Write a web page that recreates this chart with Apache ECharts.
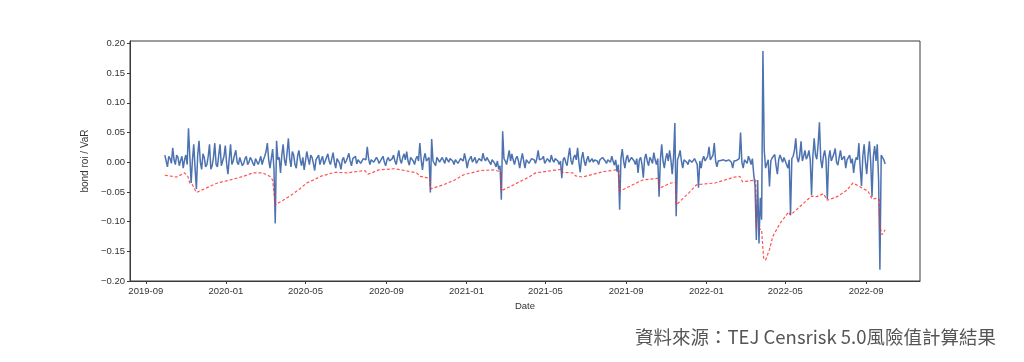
<!DOCTYPE html>
<html>
<head>
<meta charset="utf-8">
<script src="https://cdn.jsdelivr.net/npm/echarts@6/dist/echarts.min.js"></script>
<style>
html,body{margin:0;padding:0;background:#fff;}
#c{width:1024px;height:362px;}
</style>
</head>
<body>
<div id="c"></div>
<script>
// ---- data ----
const roiStartDate = '2019-09-30';
const roiStepDays = 2;
const bondRoi = [
 0.012,0.002,-0.008,0.010,0.006,-0.002,0.024,0.004,-0.004,0.012,0.008,-0.006,0.003,0.010,-0.010,0.004,0.012,-0.004,0.057,0.010,
 -0.035,0.004,0.030,-0.010,-0.045,0.012,0.036,0.000,-0.012,0.014,0.008,-0.008,-0.004,0.010,0.030,-0.012,-0.006,0.008,0.032,-0.004,
 -0.008,0.012,0.030,-0.006,-0.004,0.010,0.028,-0.002,-0.020,0.006,0.030,-0.004,0.002,0.012,0.020,0.000,-0.004,0.008,0.006,-0.006,
 -0.002,0.006,0.010,-0.004,0.000,0.008,0.004,-0.002,-0.006,0.006,0.008,-0.004,0.002,0.010,-0.004,0.004,0.010,0.018,0.032,0.004,
 -0.010,0.006,0.022,-0.010,-0.103,0.036,0.004,0.008,-0.018,0.012,0.030,0.004,-0.006,0.016,0.040,0.006,-0.008,0.018,0.012,-0.004,
 -0.010,0.010,0.020,0.004,-0.006,0.008,-0.013,0.002,0.018,0.006,-0.004,0.012,0.008,-0.002,-0.014,0.004,0.006,0.012,-0.004,0.004,
 0.010,-0.004,0.002,0.008,0.014,0.002,-0.004,0.006,0.016,0.000,-0.010,0.006,0.004,-0.002,-0.012,0.004,0.008,-0.002,0.002,0.008,
 0.015,0.002,-0.006,0.006,0.004,0.010,-0.003,0.004,0.006,-0.002,0.000,0.006,0.008,0.004,0.026,0.006,-0.004,0.004,0.006,0.000,
 0.002,0.008,0.004,-0.002,0.002,0.006,0.010,0.000,-0.006,0.004,0.008,0.002,0.002,0.006,0.012,0.002,-0.004,0.008,0.020,0.004,
 -0.002,0.008,0.014,0.004,0.018,0.002,-0.005,0.008,0.006,0.002,-0.004,0.006,0.010,0.002,0.032,0.004,-0.013,0.006,0.015,0.002,
 0.004,0.008,-0.051,0.039,0.002,0.004,-0.006,0.008,0.010,0.000,-0.002,0.008,0.006,-0.002,0.008,0.004,0.000,0.006,0.005,0.002,
 -0.004,0.004,0.006,-0.002,0.002,0.006,0.008,0.002,0.015,0.004,-0.010,0.002,0.006,0.010,0.000,0.004,0.008,-0.002,0.002,0.006,
 0.006,0.002,0.015,0.006,0.002,0.008,0.004,0.000,-0.004,0.004,0.003,-0.002,-0.008,0.002,-0.012,-0.006,-0.063,0.052,0.006,0.002,
 -0.004,0.008,0.020,0.002,0.014,0.004,-0.004,0.006,0.010,0.002,-0.010,0.004,0.015,0.002,-0.010,0.004,0.006,-0.002,0.002,0.006,
 0.008,0.004,-0.002,0.006,0.020,0.004,0.002,0.006,0.010,-0.002,0.002,0.006,0.004,0.000,0.012,0.004,0.000,0.006,0.004,0.002,
 -0.004,0.002,-0.027,0.004,0.008,0.000,-0.006,0.010,0.024,0.002,-0.004,0.008,0.012,0.004,0.024,0.000,-0.017,0.006,0.017,0.002,
 -0.006,0.004,0.010,0.000,0.002,0.006,0.000,0.004,0.006,0.002,-0.004,0.004,0.004,0.008,0.010,0.002,-0.002,0.004,0.006,0.000,
 0.010,0.002,-0.005,0.004,-0.016,-0.004,-0.080,0.006,0.022,0.002,-0.010,0.006,0.012,0.000,0.002,0.008,0.010,0.002,-0.004,0.006,
 -0.018,0.004,0.008,-0.004,-0.026,0.006,0.014,0.002,-0.006,0.008,0.004,-0.002,0.016,0.004,-0.004,0.006,-0.058,0.004,0.030,0.002,
 -0.010,0.006,0.015,0.002,0.020,0.004,-0.020,0.008,0.066,-0.091,0.004,0.010,0.020,0.002,-0.010,0.004,0.005,0.000,-0.004,0.004,
 0.006,0.000,0.002,0.006,0.004,-0.004,-0.043,0.002,-0.010,0.004,0.010,0.002,0.002,0.010,0.026,0.004,0.004,0.012,0.032,0.002,
 -0.008,0.002,0.005,0.003,0.002,0.004,0.003,0.002,0.003,0.004,0.002,0.000,-0.010,0.002,0.005,0.003,0.002,0.006,0.050,0.000,
 -0.010,0.004,0.006,-0.002,0.010,0.004,-0.004,0.006,-0.020,-0.040,-0.131,-0.030,-0.137,-0.060,-0.097,0.187,0.020,-0.010,-0.013,0.004,
 -0.041,0.002,0.007,0.010,0.013,-0.006,-0.020,0.004,0.012,0.006,0.000,0.008,0.008,-0.004,-0.010,0.004,-0.089,0.006,0.010,0.020,
 0.040,0.008,0.000,0.012,0.035,0.002,0.010,0.020,0.005,0.010,0.020,0.004,-0.055,0.010,0.040,0.012,0.005,0.030,0.067,0.004,
 -0.010,0.010,0.020,0.004,-0.062,0.006,0.020,0.002,0.005,0.014,0.023,0.000,-0.005,0.008,0.020,0.004,0.002,0.010,-0.010,0.004,
 0.004,0.012,-0.002,0.006,-0.018,0.000,0.008,0.004,0.032,-0.010,-0.040,0.010,0.030,0.000,-0.020,0.012,0.035,0.000,-0.058,0.010,
 0.027,0.002,0.030,-0.030,-0.181,0.012,0.012,0.004,-0.003
];
const varDates = [
 '2019-09-30','2019-10-18','2019-10-30','2019-11-04','2019-11-07','2019-11-11','2019-11-14','2019-11-17','2019-11-25','2019-12-07',
 '2019-12-19','2020-01-07','2020-01-27','2020-02-11','2020-02-26','2020-03-08','2020-03-12','2020-03-15','2020-03-16','2020-03-31',
 '2020-04-10','2020-04-22','2020-05-03','2020-05-15','2020-05-26','2020-06-15','2020-07-03','2020-07-30','2020-08-04','2020-08-10',
 '2020-08-20','2020-09-14','2020-09-29','2020-10-17','2020-10-23','2020-11-06','2020-11-07','2020-11-27','2020-12-14','2020-12-28',
 '2021-01-23','2021-02-12','2021-02-22','2021-02-23','2021-03-14','2021-04-06','2021-04-16','2021-05-25','2021-05-26','2021-06-12',
 '2021-06-16','2021-06-26','2021-07-28','2021-08-16','2021-08-21','2021-08-22','2021-09-11','2021-09-26','2021-10-20','2021-10-21',
 '2021-11-08','2021-11-15','2021-11-16','2021-12-05','2021-12-17','2021-12-20','2022-01-14','2022-02-13','2022-02-21','2022-02-25',
 '2022-03-17','2022-03-18','2022-03-26','2022-03-29','2022-04-01','2022-04-07','2022-04-12','2022-04-23','2022-05-06','2022-05-09',
 '2022-05-23','2022-06-10','2022-06-18','2022-06-28','2022-07-04','2022-07-19','2022-08-03','2022-08-12','2022-08-22','2022-09-04',
 '2022-09-10','2022-09-17','2022-09-21','2022-09-22','2022-09-25','2022-09-30'
];
const varValues = [
 -0.022,-0.025,-0.018,-0.024,-0.035,-0.038,-0.041,-0.051,-0.047,-0.041,
 -0.035,-0.030,-0.024,-0.018,-0.018,-0.024,-0.030,-0.033,-0.072,-0.062,
 -0.055,-0.045,-0.035,-0.029,-0.023,-0.017,-0.018,-0.014,-0.020,-0.018,
 -0.013,-0.011,-0.014,-0.018,-0.024,-0.027,-0.045,-0.038,-0.030,-0.021,
 -0.014,-0.013,-0.016,-0.048,-0.038,-0.025,-0.018,-0.012,-0.017,-0.018,
 -0.023,-0.025,-0.016,-0.013,-0.014,-0.049,-0.038,-0.030,-0.027,-0.044,
 -0.035,-0.034,-0.072,-0.052,-0.038,-0.041,-0.035,-0.025,-0.024,-0.033,
 -0.030,-0.110,-0.114,-0.161,-0.165,-0.147,-0.125,-0.103,-0.084,-0.089,
 -0.075,-0.057,-0.058,-0.053,-0.064,-0.058,-0.047,-0.035,-0.041,-0.049,
 -0.062,-0.061,-0.063,-0.108,-0.122,-0.114
];
const xTickDates = ['2019-09-01','2020-01-01','2020-05-01','2020-09-01','2021-01-01','2021-05-01','2021-09-01','2022-01-01','2022-05-01','2022-09-01'];
const yTicks = [-0.20,-0.15,-0.10,-0.05,0.00,0.05,0.10,0.15,0.20];
const xRange = ['2019-08-08','2022-11-22'];
const yRange = [-0.20, 0.204];
const yAxisTitle = 'bond roi / VaR';
const xAxisTitle = 'Date';
const caption = '資料來源：TEJ Censrisk 5.0風險值計算結果';

// ---- build ----
const pd = s => echarts.number.parseDate(s).getTime();
const DAY = 86400000;
const t0 = pd(roiStartDate);
const roiSeries = bondRoi.map((v, i) => [t0 + i * roiStepDays * DAY, v]);
const varSeries = varDates.map((d, i) => [pd(d), varValues[i]]);
const xTickVals = xTickDates.map(pd);
const labelFont = {fontFamily: 'Liberation Sans, Arial, sans-serif', fontSize: 9.5, color: '#333'};

const chart = echarts.init(document.getElementById('c'), null, {renderer: 'canvas'});
chart.setOption({
  animation: false,
  backgroundColor: '#fff',
  grid: {left: 130, right: 104, top: 41, bottom: 81, show: true, borderColor: '#3a3a3a', borderWidth: 1, backgroundColor: '#fff'},
  xAxis: {
    type: 'value',
    min: pd(xRange[0]), max: pd(xRange[1]),
    name: xAxisTitle, nameLocation: 'middle', nameGap: 17,
    nameTextStyle: labelFont,
    axisLine: {show: true, onZero: false, lineStyle: {color: '#3a3a3a', width: 1}},
    axisTick: {show: true, length: 3, customValues: xTickVals, lineStyle: {color: '#3a3a3a'}},
    axisLabel: Object.assign({customValues: xTickVals, margin: 5,
      formatter: v => echarts.time.format(v, '{yyyy}-{MM}', false)}, labelFont),
    splitLine: {show: false}
  },
  yAxis: {
    type: 'value',
    min: yRange[0], max: yRange[1],
    name: yAxisTitle, nameLocation: 'middle', nameGap: 36, nameRotate: 90,
    nameTextStyle: Object.assign({}, labelFont, {fontSize: 10}),
    axisLine: {show: true, lineStyle: {color: '#3a3a3a', width: 1}},
    axisTick: {show: true, length: 3, customValues: yTicks, lineStyle: {color: '#3a3a3a'}},
    axisLabel: Object.assign({customValues: yTicks, margin: 5,
      formatter: v => (v < 0 ? '\u2212' : '') + Math.abs(v).toFixed(2)}, labelFont),
    splitLine: {show: false}
  },
  series: [
    {type: 'line', data: roiSeries, showSymbol: false, symbol: 'none', z: 2,
     lineStyle: {color: '#4C72B0', width: 1.5}},
    {type: 'line', data: varSeries, showSymbol: false, symbol: 'none', z: 3,
     lineStyle: {color: 'rgba(255,40,40,0.8)', width: 1.2, type: [3, 2]}}
  ],
  graphic: [{
    type: 'text', right: 28, top: 328,
    style: {text: caption, fontSize: 18.5, fill: '#555', fontFamily: 'Noto Sans CJK TC, sans-serif'}
  }]
});
</script>
</body>
</html>
